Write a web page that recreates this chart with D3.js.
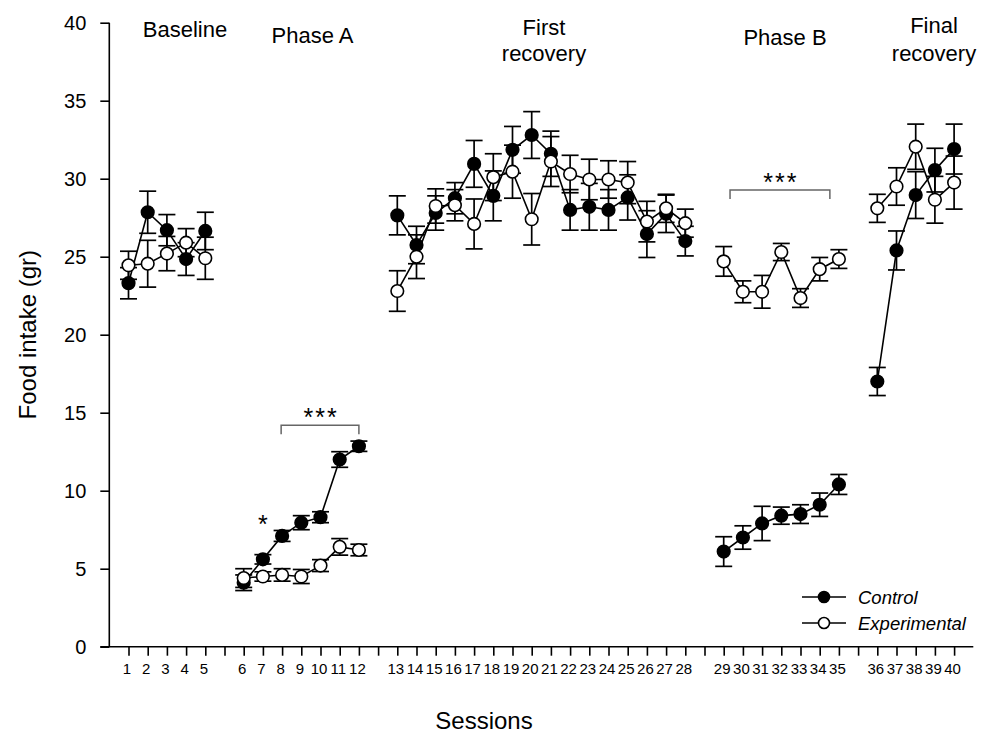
<!DOCTYPE html>
<html>
<head>
<meta charset="utf-8">
<script src="https://cdn.jsdelivr.net/npm/d3@7/dist/d3.min.js"></script>
<style>
  html, body { margin: 0; padding: 0; background: #fff; }
  svg { display: block; font-family: "Liberation Sans", Arial, sans-serif; }
</style>
</head>
<body>
<svg id="chart" width="984" height="736"></svg>
<script>
// ---------------- data ----------------
const phaseNames = [["Baseline"], ["Phase A"], ["First", "recovery"], ["Phase B"], ["Final", "recovery"]];
const phaseSessionCounts = [5, 7, 16, 7, 5];
const sessions = d3.range(1, 41);
const yTicks = [0, 5, 10, 15, 20, 25, 30, 35, 40];

const controlMean = [
  23.3, 27.85, 26.7, 24.85, 26.65,
  4.1, 5.6, 7.1, 7.95, 8.3, 12.0, 12.85,
  27.65, 25.75, 27.8, 28.75, 30.95, 28.9, 31.85, 32.8, 31.6, 28.0, 28.2, 28.0, 28.8, 26.45, 27.75, 26.0,
  6.1, 7.0, 7.9, 8.4, 8.5, 9.1, 10.4,
  17.0, 25.4, 28.95, 30.55, 31.9
];
const controlSem = [
  1.0, 1.35, 1.0, 1.05, 1.2,
  0.5, 0.3, 0.35, 0.45, 0.35, 0.5, 0.33,
  1.25, 1.2, 1.1, 1.0, 1.5, 1.6, 1.5, 1.5, 1.45, 1.3, 1.5, 1.3, 1.45, 1.5, 1.2, 0.95,
  0.95, 0.75, 1.1, 0.55, 0.6, 0.75, 0.64,
  0.9, 1.25, 1.5, 1.4, 1.6
];
const expMean = [
  24.45, 24.55, 25.2, 25.9, 24.9,
  4.4, 4.5, 4.6, 4.5, 5.2, 6.4, 6.2,
  22.8, 25.0, 28.25, 28.3, 27.1, 30.1, 30.45, 27.4, 31.1, 30.3, 29.95, 29.95, 29.75, 27.25, 28.1, 27.15,
  24.7, 22.75, 22.75, 25.3, 22.35, 24.2, 24.85,
  28.1, 29.5, 32.05, 28.65, 29.75
];
const expSem = [
  0.9, 1.5, 1.1, 0.9, 1.35,
  0.6, 0.3, 0.4, 0.45, 0.38, 0.53, 0.37,
  1.3, 1.4, 1.1, 1.0, 1.6, 1.5, 1.7, 1.65, 1.6, 1.2, 1.3, 1.2, 1.35, 1.3, 0.9, 0.9,
  0.95, 0.7, 1.05, 0.55, 0.6, 0.75, 0.6,
  0.9, 1.2, 1.45, 1.5, 1.7
];
const seriesNames = ["Control", "Experimental"];

// significance marks
const singleStars = [{ session: 7, value: 8.1, label: "*" }];
const brackets = [
  { from: 8, to: 12, value: 14.2, label: "***" },
  { from: 29, to: 35, value: 29.28, label: "***" }
];

// ---------------- layout ----------------
const svg = d3.select("#chart");
const totalSlots = 45;
const x = d3.scaleLinear().domain([0, totalSlots]).range([109.3, 973.3]);
const y = d3.scaleLinear().domain([0, 40]).range([646.7, 22.7]);

// phase index of each session and its slot (one empty slot between phases)
const phaseOf = [];
phaseSessionCounts.forEach((n, p) => { for (let i = 0; i < n; i++) phaseOf.push(p); });
const slotOf = s => s + phaseOf[s - 1];

// ---------------- axes ----------------
const yAxis = d3.axisLeft(y).tickValues(yTicks).tickSize(9).tickPadding(14).tickFormat(d3.format("d"));
const gy = svg.append("g").attr("transform", `translate(${x(0)},0)`).call(yAxis);
gy.select(".domain").remove();
gy.selectAll(".tick line").attr("stroke", "#000").attr("stroke-width", 1.6);
gy.selectAll(".tick text").attr("font-size", 20).attr("fill", "#000")
  .attr("font-family", "Liberation Sans, Arial, sans-serif");
svg.append("line").attr("x1", x(0)).attr("x2", x(0)).attr("y1", y(40)).attr("y2", y(0))
  .attr("stroke", "#000").attr("stroke-width", 1.6);

const slotToSession = {};
sessions.forEach(s => { slotToSession[slotOf(s)] = s; });
const xAxis = d3.axisBottom(x).tickValues(d3.range(1, totalSlots)).tickSize(9).tickPadding(8)
  .tickFormat(d => slotToSession[d] !== undefined ? String(slotToSession[d]) : "");
const gx = svg.append("g").attr("transform", `translate(0,${y(0)})`).call(xAxis);
gx.select(".domain").remove();
gx.selectAll(".tick line").attr("stroke", "#000").attr("stroke-width", 1.6);
gx.selectAll(".tick text").attr("font-size", 15).attr("fill", "#000").attr("dx", -2)
  .attr("font-family", "Liberation Sans, Arial, sans-serif");
svg.append("line").attr("x1", x(0) - 9).attr("x2", x(totalSlots)).attr("y1", y(0)).attr("y2", y(0))
  .attr("stroke", "#000").attr("stroke-width", 1.6);

// axis titles
svg.append("text").attr("x", 484).attr("y", 729).attr("text-anchor", "middle")
  .attr("font-size", 24).text("Sessions");
svg.append("text").attr("transform", `translate(36,${(y(0) + y(40)) / 2}) rotate(-90)`)
  .attr("text-anchor", "middle").attr("font-size", 24).text("Food intake (gr)");

// phase labels
const phaseLabelPos = [
  { cx: 185, lines: [37] },
  { cx: 312.5, lines: [43] },
  { cx: 544, lines: [35, 61] },
  { cx: 785, lines: [45] },
  { cx: 934, lines: [33, 61] }
];
phaseNames.forEach((lines, i) => {
  lines.forEach((t, j) => {
    svg.append("text").attr("x", phaseLabelPos[i].cx).attr("y", phaseLabelPos[i].lines[j])
      .attr("text-anchor", "middle").attr("font-size", 22).text(t);
  });
});

// ---------------- series ----------------
function buildSeries(mean, sem) {
  return sessions.map((s, i) => ({ session: s, slot: slotOf(s), phase: phaseOf[i], m: mean[i], e: sem[i] }));
}
const series = [
  { name: seriesNames[0], data: buildSeries(controlMean, controlSem), fill: "#000" },
  { name: seriesNames[1], data: buildSeries(expMean, expSem), fill: "#fff" }
];

const capHalf = 8.5;
const line = d3.line().x(d => x(d.slot)).y(d => y(d.m));

series.forEach(sr => {
  const g = svg.append("g").attr("stroke", "#000").attr("stroke-width", 1.7).attr("fill", "none");
  sr.data.forEach(d => {
    const cx = x(d.slot);
    g.append("line").attr("x1", cx).attr("x2", cx).attr("y1", y(d.m - d.e)).attr("y2", y(d.m + d.e));
    g.append("line").attr("x1", cx - capHalf).attr("x2", cx + capHalf).attr("y1", y(d.m - d.e)).attr("y2", y(d.m - d.e));
    g.append("line").attr("x1", cx - capHalf).attr("x2", cx + capHalf).attr("y1", y(d.m + d.e)).attr("y2", y(d.m + d.e));
  });
});

series.forEach(sr => {
  d3.groups(sr.data, d => d.phase).forEach(([p, pts]) => {
    svg.append("path").attr("d", line(pts)).attr("fill", "none").attr("stroke", "#000").attr("stroke-width", 1.6);
  });
});

series.forEach(sr => {
  svg.append("g").selectAll("circle").data(sr.data).join("circle")
    .attr("cx", d => x(d.slot)).attr("cy", d => y(d.m)).attr("r", 6.3)
    .attr("fill", sr.fill).attr("stroke", "#000").attr("stroke-width", 1.6);
});

// ---------------- significance ----------------
singleStars.forEach(s => {
  svg.append("text").attr("x", x(slotOf(s.session))).attr("y", y(s.value) + 13)
    .attr("text-anchor", "middle").attr("font-size", 25).text(s.label);
});
brackets.forEach((b, i) => {
  const inset = i === 0 ? [-0.05, 0] : [0.33, -0.47];
  const x1 = x(slotOf(b.from) + inset[0]), x2 = x(slotOf(b.to) + inset[1]);
  const yy = y(b.value);
  svg.append("path").attr("d", `M${x1},${yy + 9}V${yy}H${x2}V${yy + 9}`)
    .attr("fill", "none").attr("stroke", "#666").attr("stroke-width", 1.5);
  svg.append("text").attr("x", (x1 + x2) / 2 + 1).attr("y", yy + 1).attr("text-anchor", "middle")
    .attr("font-size", 25).attr("letter-spacing", 2).text(b.label);
});

// ---------------- legend ----------------
const legendRows = [597, 623];
series.forEach((sr, i) => {
  const ly = legendRows[i];
  svg.append("line").attr("x1", 802).attr("x2", 846).attr("y1", ly).attr("y2", ly)
    .attr("stroke", "#000").attr("stroke-width", 1.6);
  svg.append("circle").attr("cx", 824).attr("cy", ly).attr("r", 5.5)
    .attr("fill", sr.fill).attr("stroke", "#000").attr("stroke-width", 1.6);
  svg.append("text").attr("x", 858).attr("y", ly + 6.5).attr("font-size", 18.5)
    .attr("font-style", "italic").text(sr.name);
});
</script>
</body>
</html>
